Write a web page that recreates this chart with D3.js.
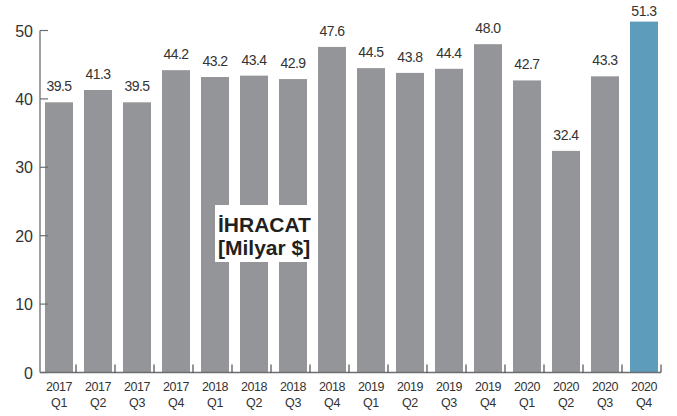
<!DOCTYPE html>
<html>
<head>
<meta charset="utf-8">
<script src="https://cdn.jsdelivr.net/npm/d3@7"></script>
<style>
  body { margin: 0; background: #fff; }
  svg { display: block; font-family: "Liberation Sans", Arial, sans-serif; }
</style>
</head>
<body>
<svg id="svg1" width="677" height="416"></svg>
<script>
// data
var years = ['2017','2017','2017','2017','2018','2018','2018','2018','2019','2019','2019','2019','2020','2020','2020','2020'];
var quarters = ['Q1','Q2','Q3','Q4','Q1','Q2','Q3','Q4','Q1','Q2','Q3','Q4','Q1','Q2','Q3','Q4'];
var exports = [39.5, 41.3, 39.5, 44.2, 43.2, 43.4, 42.9, 47.6, 44.5, 43.8, 44.4, 48.0, 42.7, 32.4, 43.3, 51.3];
var yTicks = [0, 10, 20, 30, 40, 50];

var rows = exports.map(function(v, i) {
  return { key: years[i] + ' ' + quarters[i], year: years[i], q: quarters[i], value: v, last: i === exports.length - 1 };
});

var svg = d3.select('#svg1');

var x = d3.scaleBand()
    .domain(rows.map(function(d) { return d.key; }))
    .range([45, 658])
    .paddingInner(0.282)
    .paddingOuter(0);

var y = d3.scaleLinear()
    .domain([0, 50])
    .range([372.5, 30.5]);

// bars
svg.selectAll('rect.bar')
    .data(rows)
    .enter()
    .append('rect')
    .attr('class', 'bar')
    .attr('x', function(d) { return x(d.key); })
    .attr('width', x.bandwidth())
    .attr('y', function(d) { return y(d.value); })
    .attr('height', function(d) { return y(0) - y(d.value); })
    .attr('fill', function(d) { return d.last ? '#5d9cba' : '#939598'; });

// value labels (kept inside the top edge)
svg.selectAll('text.val')
    .data(rows)
    .enter()
    .append('text')
    .attr('class', 'val')
    .attr('x', function(d) { return x(d.key) + x.bandwidth() / 2; })
    .attr('y', function(d) { return Math.max(y(d.value) - 11, 16); })
    .attr('text-anchor', 'middle')
    .attr('font-size', 14)
    .attr('letter-spacing', -0.5)
    .attr('fill', '#333')
    .text(function(d) { return d.value.toFixed(1); });

// y axis
var yAxis = svg.append('g');
yAxis.append('line')
    .attr('x1', 40).attr('x2', 40)
    .attr('y1', y(50)).attr('y2', y(0))
    .attr('stroke', '#6d6e71').attr('stroke-width', 1.3);
yAxis.selectAll('line.tick')
    .data(yTicks)
    .enter()
    .append('line')
    .attr('class', 'tick')
    .attr('x1', 40).attr('x2', 48)
    .attr('y1', function(d) { return y(d); })
    .attr('y2', function(d) { return y(d); })
    .attr('stroke', '#6d6e71').attr('stroke-width', 1.2);
yAxis.selectAll('text')
    .data(yTicks)
    .enter()
    .append('text')
    .attr('x', 33)
    .attr('y', function(d) { return y(d) + 6; })
    .attr('text-anchor', 'end')
    .attr('font-size', 16)
    .attr('fill', '#333')
    .text(function(d) { return d; });

// x axis
var xAxis = svg.append('g');
xAxis.append('line')
    .attr('x1', 40).attr('x2', x(rows[rows.length - 1].key) + x.bandwidth() + 3)
    .attr('y1', y(0)).attr('y2', y(0))
    .attr('stroke', '#6d6e71').attr('stroke-width', 1.3);
xAxis.selectAll('line.tick')
    .data(rows)
    .enter()
    .append('line')
    .attr('class', 'tick')
    .attr('x1', function(d) { return x(d.key) + x.bandwidth() + 3; })
    .attr('x2', function(d) { return x(d.key) + x.bandwidth() + 3; })
    .attr('y1', y(0) - 8).attr('y2', y(0))
    .attr('stroke', '#4d4d4f').attr('stroke-width', 1.2);

var xl = xAxis.selectAll('text')
    .data(rows)
    .enter()
    .append('text')
    .attr('text-anchor', 'middle')
    .attr('font-size', 12.5)
    .attr('letter-spacing', -0.4)
    .attr('fill', '#333');
xl.append('tspan')
    .attr('x', function(d) { return x(d.key) + x.bandwidth() / 2; })
    .attr('y', 391)
    .text(function(d) { return d.year; });
xl.append('tspan')
    .attr('x', function(d) { return x(d.key) + x.bandwidth() / 2; })
    .attr('y', 407)
    .text(function(d) { return d.q; });

// title box
var title = svg.append('g');
title.append('rect')
    .attr('x', 215).attr('y', 205)
    .attr('width', 99).attr('height', 57)
    .attr('fill', '#fff');
title.append('text')
    .attr('x', 218).attr('y', 232)
    .attr('font-size', 21)
    .attr('font-weight', 'bold')
    .attr('fill', '#231f20')
    .text('İHRACAT');
title.append('text')
    .attr('x', 218).attr('y', 255)
    .attr('font-size', 21)
    .attr('font-weight', 'bold')
    .attr('fill', '#231f20')
    .text('[Milyar $]');
</script>
</body>
</html>
